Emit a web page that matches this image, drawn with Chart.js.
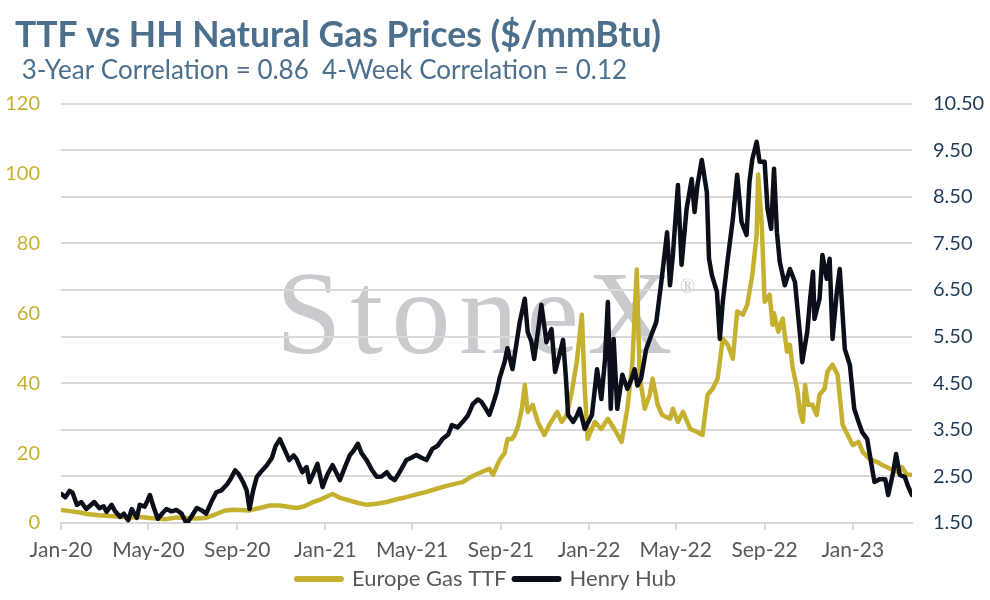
<!DOCTYPE html>
<html>
<head>
<meta charset="utf-8">
<script src="https://cdn.jsdelivr.net/npm/chart.js@4.4.1/dist/chart.umd.min.js"></script>
<style>
  html, body { margin: 0; padding: 0; background: #fff; }
</style>
</head>
<body>
<canvas id="myChart" width="990" height="600"></canvas>
<script>
// Europe Gas TTF ($/mmBtu), left axis
const ttfDates = [
  '2020-01-02','2020-01-13','2020-01-27','2020-02-05','2020-02-23','2020-03-08','2020-03-23','2020-04-06',
  '2020-04-19','2020-05-03','2020-05-17','2020-05-26','2020-06-09','2020-06-23','2020-07-07','2020-07-20',
  '2020-07-31','2020-08-14','2020-08-25','2020-09-05','2020-09-18','2020-10-02','2020-10-16','2020-10-30',
  '2020-11-12','2020-11-22','2020-12-03','2020-12-13','2020-12-24','2021-01-02','2021-01-11','2021-01-21',
  '2021-01-31','2021-02-14','2021-02-27','2021-03-13','2021-03-27','2021-04-10','2021-04-23','2021-05-07',
  '2021-05-21','2021-06-04','2021-06-18','2021-06-29','2021-07-10','2021-07-20','2021-07-30','2021-08-10',
  '2021-08-16','2021-08-21','2021-08-30','2021-09-06','2021-09-10','2021-09-16','2021-09-20','2021-09-25',
  '2021-09-30','2021-10-04','2021-10-08','2021-10-15','2021-10-22','2021-10-31','2021-11-07','2021-11-18',
  '2021-11-24','2021-12-01','2021-12-08','2021-12-15','2021-12-22','2021-12-26','2021-12-30','2022-01-09',
  '2022-01-18','2022-01-27','2022-02-05','2022-02-15','2022-02-23','2022-03-02','2022-03-08','2022-03-12',
  '2022-03-19','2022-03-26','2022-03-30','2022-04-06','2022-04-12','2022-04-23','2022-04-27','2022-05-04',
  '2022-05-11','2022-05-21','2022-05-30','2022-06-07','2022-06-14','2022-06-21','2022-06-28','2022-07-05',
  '2022-07-12','2022-07-19','2022-07-25','2022-08-02','2022-08-08','2022-08-15','2022-08-21','2022-08-23',
  '2022-08-28','2022-09-01','2022-09-08','2022-09-12','2022-09-14','2022-09-20','2022-09-26','2022-10-02',
  '2022-10-06','2022-10-10','2022-10-16','2022-10-20','2022-10-24','2022-10-27','2022-10-31','2022-11-06',
  '2022-11-12','2022-11-16','2022-11-23','2022-11-27','2022-12-04','2022-12-11','2022-12-18','2022-12-25',
  '2023-01-01','2023-01-09','2023-01-15','2023-01-24','2023-02-03','2023-02-11','2023-02-22','2023-03-04',
  '2023-03-10','2023-03-17','2023-03-24'
];
const ttfValues = [
  3.7, 3.4, 3.0, 2.6, 2.2, 2.0, 1.8, 1.6,
  1.7, 1.4, 1.2, 1.1, 1.6, 1.4, 1.3, 1.5,
  2.3, 3.5, 3.8, 3.7, 3.6, 4.3, 5.0, 5.0,
  4.6, 4.3, 4.8, 5.8, 6.6, 7.5, 8.3, 7.2,
  6.6, 5.8, 5.2, 5.5, 6.0, 6.8, 7.4, 8.2,
  8.9, 9.8, 10.6, 11.2, 11.7, 13.0, 14.0, 15.0,
  15.5, 13.8, 18.0, 20.0, 24.0, 24.0, 25.2, 28.0,
  32.7, 39.5, 31.8, 33.8, 28.9, 25.2, 28.1, 31.8,
  28.9, 30.9, 37.5, 46.1, 59.6, 38.4, 24.1, 28.9,
  26.9, 29.8, 26.9, 23.2, 32.7, 46.1, 72.5, 42.0,
  32.7, 36.7, 41.3, 33.8, 30.9, 29.8, 32.7, 28.9,
  31.8, 26.9, 26.1, 25.2, 36.7, 38.4, 41.3, 52.7,
  51.0, 47.0, 60.5, 59.6, 62.5, 71.0, 82.5, 99.7,
  85.4, 63.3, 65.3, 56.7, 60.0, 54.7, 58.5, 49.0,
  51.0, 44.1, 38.4, 31.8, 28.9, 39.5, 33.8, 33.8,
  30.9, 36.7, 38.4, 43.3, 45.3, 42.4, 28.1, 25.2,
  22.3, 23.2, 20.3, 18.3, 17.5, 16.6, 15.5, 14.6,
  16.0, 13.8, 13.8
];

// Henry Hub ($/mmBtu), right axis
const hhDates = [
  '2020-01-02','2020-01-07','2020-01-13','2020-01-17','2020-01-23','2020-01-29','2020-02-05','2020-02-11',
  '2020-02-16','2020-02-23','2020-02-29','2020-03-04','2020-03-11','2020-03-16','2020-03-23','2020-03-28',
  '2020-04-03','2020-04-08','2020-04-15','2020-04-19','2020-04-26','2020-05-03','2020-05-08','2020-05-14',
  '2020-05-21','2020-05-26','2020-06-02','2020-06-09','2020-06-16','2020-06-23','2020-06-30','2020-07-07',
  '2020-07-13','2020-07-20','2020-07-27','2020-08-03','2020-08-10','2020-08-18','2020-08-23','2020-08-29',
  '2020-09-03','2020-09-09','2020-09-14','2020-09-18','2020-09-23','2020-09-28','2020-10-05','2020-10-12',
  '2020-10-19','2020-10-24','2020-10-30','2020-11-05','2020-11-12','2020-11-18','2020-11-22','2020-11-30',
  '2020-12-06','2020-12-10','2020-12-15','2020-12-21','2020-12-28','2021-01-04','2021-01-11','2021-01-17',
  '2021-01-21','2021-01-28','2021-02-04','2021-02-09','2021-02-15','2021-02-20','2021-02-27','2021-03-06',
  '2021-03-13','2021-03-20','2021-03-27','2021-04-01','2021-04-07','2021-04-14','2021-04-23','2021-04-30',
  '2021-05-07','2021-05-14','2021-05-21','2021-05-29','2021-06-05','2021-06-12','2021-06-20','2021-06-25',
  '2021-07-03','2021-07-10','2021-07-17','2021-07-24','2021-07-31','2021-08-05','2021-08-11','2021-08-16',
  '2021-08-22','2021-08-26','2021-08-30','2021-09-03','2021-09-06','2021-09-10','2021-09-17','2021-09-23',
  '2021-09-27','2021-10-04','2021-10-08','2021-10-13','2021-10-17','2021-10-23','2021-10-27','2021-11-03',
  '2021-11-10','2021-11-15','2021-11-22','2021-11-26','2021-11-30','2021-12-03','2021-12-10','2021-12-15',
  '2021-12-19','2021-12-26','2022-01-01','2022-01-05','2022-01-12','2022-01-18','2022-01-23','2022-01-27',
  '2022-01-31','2022-02-04','2022-02-09','2022-02-16','2022-02-23','2022-03-01','2022-03-05','2022-03-09',
  '2022-03-14','2022-03-21','2022-03-28','2022-04-04','2022-04-11','2022-04-19','2022-04-23','2022-04-27',
  '2022-05-04','2022-05-09','2022-05-16','2022-05-23','2022-05-27','2022-05-31','2022-06-06','2022-06-13',
  '2022-06-16','2022-06-20','2022-06-27','2022-07-01','2022-07-05','2022-07-12','2022-07-19','2022-07-25',
  '2022-07-31','2022-08-07','2022-08-11','2022-08-15','2022-08-21','2022-08-25','2022-09-01','2022-09-05',
  '2022-09-10','2022-09-14','2022-09-18','2022-09-22','2022-09-29','2022-10-06','2022-10-13','2022-10-20',
  '2022-10-23','2022-10-30','2022-11-03','2022-11-07','2022-11-09','2022-11-16','2022-11-20','2022-11-26',
  '2022-11-30','2022-12-04','2022-12-10','2022-12-14','2022-12-21','2022-12-28','2023-01-03','2023-01-09',
  '2023-01-14','2023-01-21','2023-01-27','2023-01-31','2023-02-07','2023-02-15','2023-02-19','2023-02-26',
  '2023-03-02','2023-03-07','2023-03-14','2023-03-18','2023-03-24'
];
const hhValues = [
  2.12, 2.05, 2.19, 2.15, 1.89, 1.95, 1.80, 1.88,
  1.95, 1.82, 1.86, 1.74, 1.89, 1.75, 1.63, 1.70,
  1.56, 1.80, 1.61, 1.89, 1.85, 2.10, 1.85, 1.59,
  1.72, 1.80, 1.75, 1.78, 1.70, 1.48, 1.65, 1.82,
  1.78, 1.70, 1.95, 2.16, 2.20, 2.33, 2.45, 2.63,
  2.55, 2.38, 2.20, 1.80, 2.20, 2.49, 2.62, 2.74,
  2.90, 3.15, 3.30, 3.09, 2.85, 2.95, 2.87, 2.59,
  2.70, 2.38, 2.55, 2.77, 2.27, 2.55, 2.74, 2.55,
  2.42, 2.70, 2.96, 3.05, 3.20, 3.00, 2.85, 2.65,
  2.49, 2.50, 2.59, 2.48, 2.42, 2.60, 2.85, 2.90,
  2.96, 2.90, 2.85, 3.09, 3.15, 3.30, 3.40, 3.60,
  3.55, 3.67, 3.80, 4.05, 4.15, 4.10, 3.95, 3.82,
  4.10, 4.30, 4.60, 4.80, 4.95, 5.25, 4.80, 5.40,
  5.81, 6.31, 5.60, 5.40, 5.02, 5.70, 6.18, 5.38,
  5.66, 4.74, 5.17, 5.43, 4.60, 3.82, 3.67, 3.80,
  3.95, 3.52, 3.70, 3.82, 4.80, 4.16, 5.00, 6.24,
  3.95, 5.45, 3.95, 4.68, 4.38, 4.60, 4.80, 4.45,
  4.60, 5.23, 5.53, 5.81, 6.67, 7.74, 6.60, 7.25,
  8.75, 7.04, 8.24, 8.88, 8.17, 8.75, 9.29, 8.60,
  7.17, 6.82, 6.46, 5.45, 6.24, 7.17, 8.02, 8.97,
  7.96, 7.68, 8.82, 9.31, 9.68, 9.25, 9.25, 8.24,
  7.81, 9.10, 7.74, 7.10, 6.60, 6.95, 6.67, 5.53,
  4.95, 5.60, 6.31, 6.89, 5.88, 6.31, 7.25, 6.74,
  7.17, 5.45, 6.46, 6.95, 5.23, 4.89, 3.95, 3.67,
  3.45, 3.30, 2.74, 2.38, 2.44, 2.44, 2.10, 2.59,
  2.98, 2.53, 2.49, 2.31, 2.10
];

const tickDates = ['2020-01-01','2020-05-01','2020-09-01','2021-01-01','2021-05-01',
                   '2021-09-01','2022-01-01','2022-05-01','2022-09-01','2023-01-01'];
const tickLabels = ['Jan-20','May-20','Sep-20','Jan-21','May-21','Sep-21','Jan-22','May-22','Sep-22','Jan-23'];
const ttfTicks = [0, 20, 40, 60, 80, 100, 120];
const hhTicks = [1.5, 2.5, 3.5, 4.5, 5.5, 6.5, 7.5, 8.5, 9.5, 10.5];

const startUTC = Date.UTC(2020, 0, 1);
function dayOf(s) {
  const [y, m, d] = s.split('-').map(Number);
  return (Date.UTC(y, m - 1, d) - startUTC) / 86400000;
}

const GOLD = '#c6b030';
const INK = '#0a0f19';
const GRID = '#d9d9d9';
const FONT = 'Lato';

// StoneX watermark, painted before the grid
const watermark = {
  id: 'watermark',
  beforeDraw(chart) {
    const ctx = chart.ctx;
    ctx.save();
    ctx.fillStyle = '#fff';
    ctx.fillRect(0, 0, chart.width, chart.height);
    ctx.fillStyle = '#c9cacd';
    ctx.font = '118px "Liberation Serif"';
    ctx.textBaseline = 'alphabetic';
    let x = 276;
    for (const ch of 'StoneX') {
      ctx.fillText(ch, x, 353);
      x += ctx.measureText(ch).width + 8.5;
    }
    ctx.font = '20px "Liberation Serif"';
    ctx.textBaseline = 'middle';
    ctx.fillText('\u00AE', 680, 288);
    ctx.restore();
  }
};

// nudge title and subtitle in from the left edge
const titleIndent = {
  id: 'titleIndent',
  afterLayout(chart) {
    chart.boxes.forEach(b => {
      if (b.options && typeof b.options.text === 'string') b.left = 15;
    });
  }
};

const data = {
  datasets: [{
    label: 'Europe Gas TTF',
    data: ttfDates.map((d, i) => ({ x: dayOf(d), y: ttfValues[i] })),
    borderColor: GOLD,
    backgroundColor: GOLD,
    borderWidth: 4.5,
    yAxisID: 'y',
    order: 1
  }, {
    label: 'Henry Hub',
    data: hhDates.map((d, i) => ({ x: dayOf(d), y: hhValues[i] })),
    borderColor: INK,
    backgroundColor: INK,
    borderWidth: 4.5,
    yAxisID: 'y1',
    order: 0
  }]
};

const config = {
  type: 'line',
  data,
  plugins: [watermark, titleIndent],
  options: {
    responsive: false,
    animation: false,
    devicePixelRatio: 1,
    layout: { padding: 0 },
    elements: {
      point: { radius: 0 },
      line: { tension: 0, borderJoinStyle: 'round', borderCapStyle: 'round' }
    },
    scales: {
      x: {
        type: 'linear',
        min: 0,
        max: dayOf('2023-03-24'),
        afterBuildTicks: (axis) => { axis.ticks = tickDates.map(d => ({ value: dayOf(d) })); },
        afterFit: (scale) => { scale.height = 37; },
        ticks: {
          autoSkip: false,
          maxRotation: 0,
          padding: 8,
          color: '#595959',
          font: { family: FONT, size: 21 },
          callback: (v, i) => tickLabels[i]
        },
        grid: { drawOnChartArea: false, drawTicks: true, tickLength: 7, color: GRID, lineWidth: 2 },
        border: { color: GRID, width: 2 }
      },
      y: {
        position: 'left',
        min: 0,
        max: 120,
        afterBuildTicks: (axis) => { axis.ticks = ttfTicks.map(v => ({ value: v })); },
        afterFit: (scale) => { scale.width = 61; },
        ticks: { color: GOLD, padding: 21, font: { family: FONT, size: 20 } },
        grid: { display: false, drawTicks: false },
        border: { display: false }
      },
      y1: {
        position: 'right',
        min: 1.5,
        max: 10.5,
        afterBuildTicks: (axis) => { axis.ticks = hhTicks.map(v => ({ value: v })); },
        afterFit: (scale) => { scale.width = 78; },
        ticks: {
          color: '#1d3a58',
          padding: 21,
          font: { family: FONT, size: 20 },
          callback: (v) => v.toFixed(2)
        },
        grid: { color: GRID, lineWidth: 2, drawTicks: false },
        border: { display: false }
      }
    },
    plugins: {
      title: {
        display: true,
        align: 'start',
        text: 'TTF vs HH Natural Gas Prices ($/mmBtu)',
        color: '#4b6f8c',
        font: { family: FONT, size: 35.5, weight: 'bold', lineHeight: 1 },
        padding: { top: 18, bottom: 4 }
      },
      subtitle: {
        display: true,
        align: 'start',
        text: ' 3-Year Correlation = 0.86  4-Week Correlation = 0.12',
        color: '#4b6f8c',
        font: { family: FONT, size: 26, lineHeight: 1 },
        padding: { top: 0, bottom: 20 }
      },
      legend: {
        position: 'bottom',
        fullSize: false,
        labels: {
          sort: (a, b) => a.datasetIndex - b.datasetIndex,
          usePointStyle: true,
          pointStyle: 'line',
          pointStyleWidth: 44,
          color: '#595959',
          padding: 8,
          font: { family: FONT, size: 22, lineHeight: 1 },
          generateLabels: (chart) => {
            const items = Chart.defaults.plugins.legend.labels.generateLabels(chart);
            items.forEach(it => { it.lineWidth = 6; it.lineCap = 'round'; });
            return items;
          }
        }
      },
      tooltip: { enabled: false }
    }
  }
};

const myChart = new Chart(document.getElementById('myChart'), config);
</script>
</body>
</html>
